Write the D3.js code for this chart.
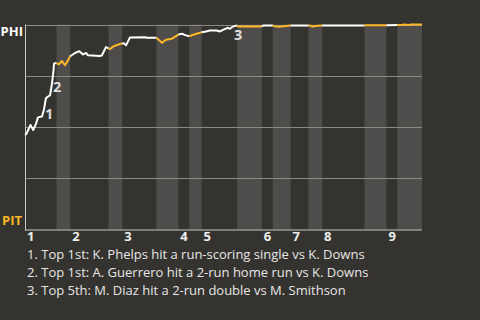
<!DOCTYPE html>
<meta charset="utf-8">
<script src="https://d3js.org/d3.v7.min.js"></script>
<style>
  body { margin: 0; background: #35332f; }
  text { font-family: "Open Sans", "Noto Sans", sans-serif; }
</style>
<div id="chart"></div>
<script>

// teams
var topTeam = "PHI", bottomTeam = "PIT";

// half inning boundaries, in pitch count (top 1, bot 1, top 2 ...)
var halfStarts = [0, 23, 33, 61, 71, 96, 112, 120, 129, 155, 173, 181, 194, 207, 217, 248, 264, 272];
var totalPitches = 290;
var inningLabels = ["1", "2", "3", "4", "5", "6", "7", "8", "9"];

// pitch number, PHI win probability
var pitchNo = [0, 1, 4, 6, 8, 9.5, 12.4, 13.9, 15.3, 18.3, 19.7, 20.7, 21.2, 22.6, 23,
  24.8, 27, 29.2, 31.4, 33, 36.5, 39.7, 42.4, 44.6, 46, 54.8, 56.2, 59.2, 61,
  62.1, 64.5, 69.4, 71, 72.3, 73.8, 76.7, 87.7, 89.1, 96, 100.1, 103, 107.4, 112,
  114.7, 117.6, 120, 122.9, 127.8, 129, 132.2, 135.1, 140, 142.4, 145.4, 148.3, 149.7, 151.2, 152.7, 155,
  156, 173, 174, 181, 182, 186, 189, 194, 207, 208, 210, 212, 217, 248, 249,
  264, 272, 275, 277, 280, 282, 290];
var winProb = [0.461, 0.466, 0.51, 0.485, 0.515, 0.547, 0.551, 0.587, 0.641, 0.655, 0.712, 0.766, 0.809, 0.812, 0.812,
  0.806, 0.822, 0.801, 0.825, 0.845, 0.861, 0.87, 0.854, 0.861, 0.85, 0.846, 0.85, 0.89, 0.884,
  0.88, 0.893, 0.905, 0.907, 0.908, 0.898, 0.937, 0.938, 0.935, 0.935, 0.911, 0.926, 0.931, 0.951,
  0.955, 0.947, 0.943, 0.95, 0.96, 0.962, 0.966, 0.971, 0.971, 0.966, 0.976, 0.984, 0.979, 0.987, 0.992, 0.995,
  0.99, 0.99, 0.995, 0.995, 0.992, 0.989, 0.992, 0.995, 0.995, 0.995, 0.99, 0.993, 0.995, 0.995, 0.996,
  0.996, 0.998, 0.998, 1.0, 0.998, 1.0, 1.0];

// key plays
var keyPitch = [13.9, 19.7, 151.2];
var keyProb = [0.587, 0.712, 0.987];
var keyText = [
  "Top 1st: K. Phelps hit a run-scoring single vs K. Downs",
  "Top 1st: A. Guerrero hit a 2-run home run vs K. Downs",
  "Top 5th: M. Diaz hit a 2-run double vs M. Smithson"
];

var W = 480, H = 320;
var plotL = 25, plotR = 422, plotT = 24.5, plotB = 229.5;

var svg = d3.select("#chart").append("svg")
  .attr("width", W)
  .attr("height", H);

var x = d3.scaleLinear().domain([0, totalPitches]).range([plotL, plotR]);
var y = d3.scaleLinear().domain([0, 1]).range([plotB, plotT]);

// shaded bottom halves
var halves = halfStarts.map(function(s, i) {
  return { start: s, end: i + 1 < halfStarts.length ? halfStarts[i + 1] : totalPitches, bottom: i % 2 == 1 };
});

svg.append("g").selectAll("rect")
  .data(halves.filter(function(d) { return d.bottom; }))
  .enter().append("rect")
    .attr("x", function(d) { return x(d.start); })
    .attr("y", plotT)
    .attr("width", function(d) { return x(d.end) - x(d.start); })
    .attr("height", plotB - plotT)
    .attr("fill", "#4e4d4b");

// gridlines
svg.append("g").selectAll("line")
  .data([0.25, 0.5, 0.75, 1])
  .enter().append("line")
    .attr("x1", plotL)
    .attr("x2", plotR)
    .attr("y1", function(d) { return Math.round(y(d)) + 0.5; })
    .attr("y2", function(d) { return Math.round(y(d)) + 0.5; })
    .attr("stroke", "#8a8986")
    .attr("stroke-width", 1);

// axes lines
svg.append("line")
  .attr("x1", plotL + 0.5).attr("x2", plotL + 0.5)
  .attr("y1", plotT).attr("y2", plotB + 1)
  .attr("stroke", "#c9c8c4");
svg.append("line")
  .attr("x1", plotL).attr("x2", plotR)
  .attr("y1", plotB + 0.5).attr("y2", plotB + 0.5)
  .attr("stroke", "#c9c8c4");

// inning labels
svg.append("g").selectAll("text")
  .data(inningLabels)
  .enter().append("text")
    .attr("x", function(d, i) { return x(halfStarts[i * 2]) + 2; })
    .attr("y", 241)
    .attr("fill", "#eeeeee")
    .attr("font-size", 13)
    .attr("font-weight", "bold")
    .text(function(d) { return d; });

// team labels
svg.append("text")
  .attr("x", 23).attr("y", 36)
  .attr("text-anchor", "end")
  .attr("fill", "#ffffff")
  .attr("font-size", 13)
  .attr("font-weight", "bold")
  .text(topTeam);
svg.append("text")
  .attr("x", 22).attr("y", 225)
  .attr("text-anchor", "end")
  .attr("fill", "#fdb827")
  .attr("font-size", 13)
  .attr("font-weight", "bold")
  .text(bottomTeam);

// win prob line, coloured by half inning
var points = pitchNo.map(function(p, i) { return { p: p, v: winProb[i] }; });
var line = d3.line()
  .x(function(d) { return x(d.p); })
  .y(function(d) { return y(d.v); });

halves.forEach(function(h) {
  var seg = points.filter(function(d) { return d.p >= h.start && d.p <= h.end; });
  svg.append("path")
    .datum(seg)
    .attr("fill", "none")
    .attr("stroke", h.bottom ? "#fdb827" : "#ffffff")
    .attr("stroke-width", 2)
    .attr("stroke-linejoin", "round")
    .attr("d", line);
});

// key play markers
var keyDx = [1, 1, 2], keyDy = [10, 8, 13];
svg.append("g").selectAll("text")
  .data(keyPitch)
  .enter().append("text")
    .attr("x", function(d, i) { return x(d) + keyDx[i]; })
    .attr("y", function(d, i) { return y(keyProb[i]) + keyDy[i]; })
    .attr("fill", "#dddddd")
    .attr("font-size", 14.5)
    .attr("font-weight", "bold")
    .text(function(d, i) { return i + 1; });

// key play notes
svg.append("g").selectAll("text")
  .data(keyText)
  .enter().append("text")
    .attr("x", 27)
    .attr("y", function(d, i) { return 259 + i * 18; })
    .attr("fill", "#e6e6e6")
    .attr("font-size", 13)
    .text(function(d, i) { return (i + 1) + ". " + d; });

</script>
